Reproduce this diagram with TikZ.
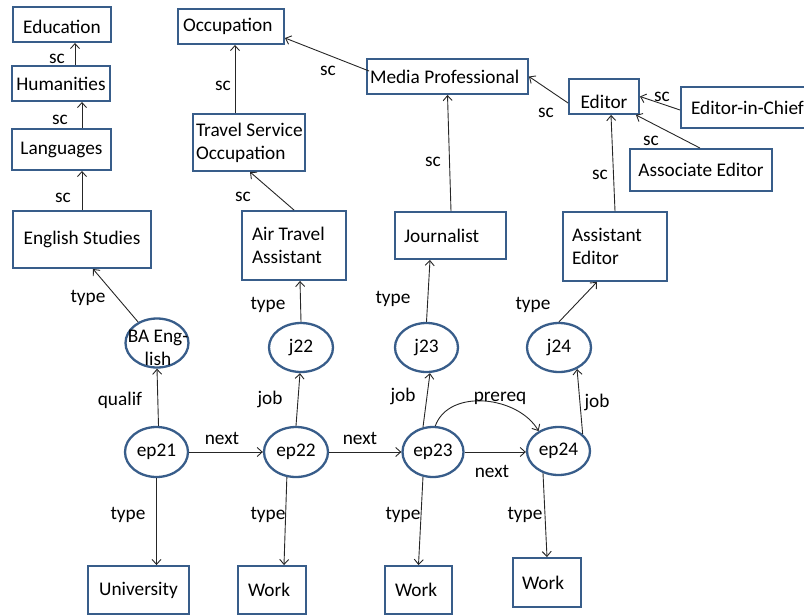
\documentclass[tikz,border=0pt]{standalone}
\usepackage{fontspec}
\setmainfont{Carlito}
\usetikzlibrary{shapes.geometric,arrows.meta,calc}
\definecolor{frameblue}{RGB}{56,93,138}
\begin{document}
\begin{tikzpicture}[x=1pt,y=-1pt,
  every node/.style={font=\fontsize{19.3}{23}\selectfont},
  cbox/.style={draw=frameblue,line width=1.9pt,rectangle,inner sep=0pt,align=center},
  lbox/.style={draw=frameblue,line width=1.9pt,rectangle,inner ysep=0pt,align=flush left},
  oval/.style={draw=frameblue,line width=2.3pt,ellipse,inner sep=0pt},
  rel/.style={draw=black!85,line width=0.9pt,-{Straight Barb[length=5pt,width=9pt]}},
  lab/.style={anchor=base,inner sep=0pt}]
\clip (0,0) rectangle (804,616);

% class boxes
\node[cbox,minimum width=98,minimum height=35,text height=17pt,text depth=0pt] (edu) at (62,24.5) {Education};
\node[cbox,minimum width=98,minimum height=35] (hum) at (61,83.5) {Humanities};
\node[cbox,minimum width=99,minimum height=41] (lang) at (61.5,149.5) {Languages};
\node[cbox,minimum width=138,minimum height=57] (eng) at (82,239.5) {English Studies};
\node[lbox,minimum height=35,inner xsep=5,text width=96] (occ) at (231,26.5) {Occupation};
\node[lbox,minimum height=57,inner xsep=3,text width=106] (trav) at (249,142.5) {\mbox{Travel Service}\\Occupation};
\node[lbox,minimum height=69,inner xsep=10,text width=84] (air) at (294,245.5) {Air Travel\\Assistant};
\node[lbox,minimum height=35,inner xsep=3,text width=155] (media) at (447.5,76.5) {Media Professional};
\node[lbox,minimum height=47,inner xsep=9,text width=93] (jour) at (450.5,235.5) {Journalist};
\node[cbox,minimum width=70,minimum height=35,text height=24pt,text depth=0pt] (editor) at (604,96.5) {Editor};
\node[lbox,minimum height=41,inner xsep=10,text width=113] (eic) at (747.5,107.5) {\mbox{Editor-in-Chief}};
\node[cbox,minimum width=142,minimum height=42] (assoc) at (701,170) {Associate Editor};
\node[lbox,minimum height=69,inner xsep=9,text width=86] (asst) at (615,246.5) {Assistant\\Editor};
\node[cbox,minimum width=101,minimum height=48] (univ) at (138.5,590) {University};
\node[lbox,minimum height=48,inner xsep=10,text width=48] (work1) at (272,590) {Work};
\node[lbox,minimum height=48,inner xsep=10,text width=47] (work2) at (418.5,590) {Work};
\node[lbox,minimum height=49,inner xsep=9,text width=50] (work3) at (547,582.5) {Work};

% instance ovals
\node[oval,minimum width=63,minimum height=49] (ba) at (157,343) {};
\node[inner sep=0pt,align=center] (batxt) at (158,348) {BA Eng-\\lish};
\node[oval,minimum width=64,minimum height=49] (j22) at (301,347.5) {j22};
\node[oval,minimum width=63,minimum height=49] (j23) at (426.5,347.5) {j23};
\node[oval,minimum width=64,minimum height=49] (j24) at (559,347.5) {j24};
\node[oval,minimum width=63,minimum height=50] (ep21) at (156.5,452) {ep21};
\node[oval,minimum width=64,minimum height=50] (ep22) at (296,452) {ep22};
\node[oval,minimum width=61,minimum height=50] (ep23) at (433,452) {ep23};
\node[oval,minimum width=63,minimum height=48] (ep24) at (558.5,451) {ep24};

% subclass links
\draw[rel] (eng.north) -- (eng.north |- lang.south);
\draw[rel] (lang.north -| eng.north) -- (eng.north |- hum.south);
\draw[rel] ($(hum.north)+(14,0)$) -- ($(edu.south)+(13,0)$);
\draw[rel] ($(trav.north)+(-14,0)$) -- ($(occ.south)+(4,0)$);
\draw[rel] (air.north) -- ($(trav.south)+(1,0)$);
\draw[rel] ($(media.west)+(3,-5.5)$) -- ($(occ.east)+(0,11.5)$);
\draw[rel] ($(jour.north)+(0.5,0)$) -- (media.south);
\draw[rel] ($(editor.west)+(0,6.5)$) -- (media.east);
\draw[rel] ($(eic.west)+(0,2.5)$) -- (editor.east);
\draw[rel] ($(assoc.north)+(-1,0)$) -- ($(editor.south east)+(-4,0)$);
\draw[rel] (asst.north) -- ($(editor.south)+(7,0)$);

% instance links
\draw[rel] (ba.132) -- ($(eng.south)+(11,0)$);
\draw[rel] ($(ep21.north)+(2,0)$) -- (ba.south);
\draw[rel] (ep22.north) -- ($(j22.south)+(-1,0)$);
\draw[rel] (j22.north) -- ($(air.south)+(6,0)$);
\draw[rel] (ep23.112) -- ($(j23.south)+(3.5,0)$);
\draw[rel] (j23.north) -- ($(jour.south)+(-20.5,0)$);
\draw[rel] (ep24.35) -- (j24.-50);
\draw[rel] (j24.north) -- ($(asst.south)+(-18,0)$);
\draw[rel] (ep21.east) -- (ep22.west);
\draw[rel] (ep22.east) -- (ep23.west);
\draw[rel] (ep23.east) -- (ep23.east -| ep24.west);
\draw[rel] (ep23.85) to[out=70,in=120] (ep24.135);
\draw[rel] (ep21.south) -- (ep21.south |- univ.north);
\draw[rel] (ep22.250) -- ($(work1.north)+(12,0)$);
\draw[rel] (ep23.248) -- (work2.north);
\draw[rel] (ep24.235) -- (work3.north);

% link labels
\node[lab] (l1) at (57,63) {sc};
\node[lab] (l2) at (60,124) {sc};
\node[lab] (l3) at (63,202) {sc};
\node[lab] (l4) at (223,90) {sc};
\node[lab] (l5) at (328,75) {sc};
\node[lab] (l6) at (243,201) {sc};
\node[lab] (l7) at (433,166) {sc};
\node[lab] (l8) at (546,117) {sc};
\node[lab] (l9) at (662,101) {sc};
\node[lab] (l10) at (651,145) {sc};
\node[lab] (l11) at (600,179) {sc};
\node[lab] (t1) at (88,302) {type};
\node[lab] (t2) at (268,309) {type};
\node[lab] (t3) at (393,303) {type};
\node[lab] (t4) at (533,309) {type};
\node[lab] (q1) at (120,405) {qualif};
\node[lab] (jb1) at (270,404) {job};
\node[lab] (jb2) at (403,401) {job};
\node[lab] (jb3) at (597,407) {job};
\node[lab] (n1) at (222,444) {next};
\node[lab] (n2) at (360,444) {next};
\node[lab] (n3) at (492,477) {next};
\node[lab] (pr) at (500,401) {prereq};
\node[lab] (b1) at (128,519) {type};
\node[lab] (b2) at (268,519) {type};
\node[lab] (b3) at (403,519) {type};
\node[lab] (b4) at (525,519) {type};
\end{tikzpicture}
\end{document}
